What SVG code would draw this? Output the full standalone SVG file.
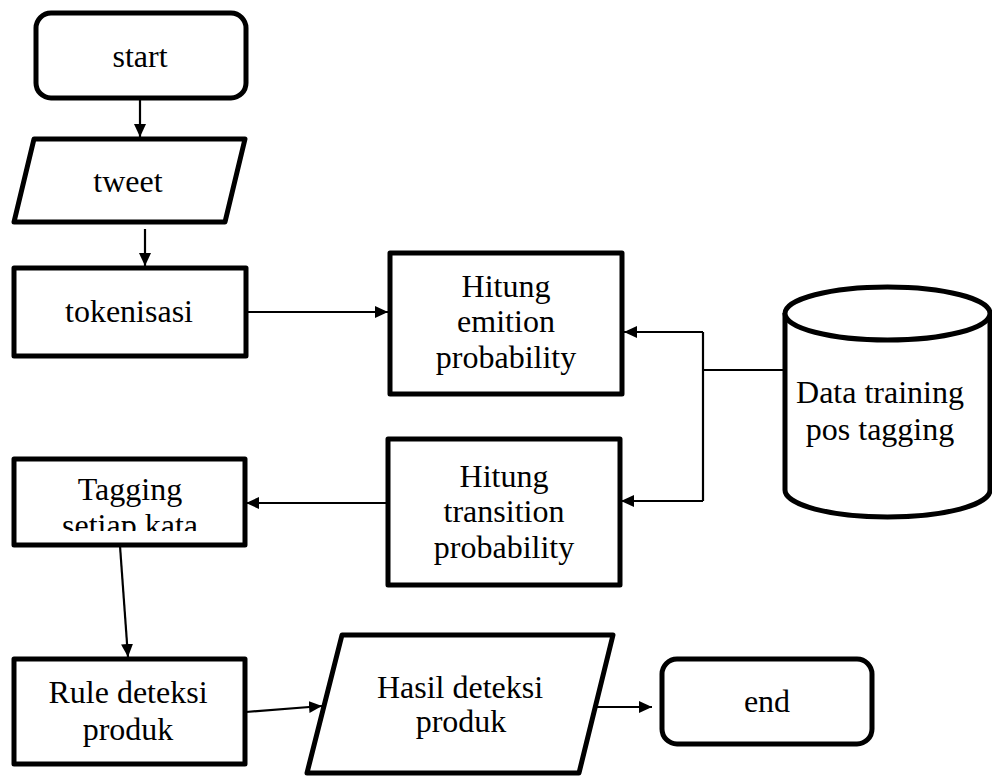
<svg xmlns="http://www.w3.org/2000/svg" width="992" height="776" viewBox="0 0 992 776">
<style>
.box{fill:#fff;stroke:#000;stroke-width:5;stroke-linejoin:round}
.lbl{font-family:"Liberation Serif","Times New Roman",serif;font-size:32px;fill:#000;text-anchor:middle}
.con{fill:none;stroke:#000;stroke-width:2.2}
.arr{marker-end:url(#ah)}
</style>
<defs>
<marker id="ah" markerUnits="userSpaceOnUse" markerWidth="14" markerHeight="14" refX="13" refY="7" orient="auto">
<path d="M0,1 L13,7 L0,13 z" fill="#000"/>
</marker>
<clipPath id="tagclip"><rect x="15" y="460" width="228" height="71"/></clipPath>
</defs>
<rect width="992" height="776" fill="#fff"/>
<g id="connectors">
<line class="con arr" x1="140" y1="99" x2="140" y2="137"/>
<line class="con arr" x1="145" y1="229" x2="145" y2="266"/>
<line class="con arr" x1="247" y1="312" x2="388" y2="312"/>
<polyline class="con" points="785,370 703,370"/>
<polyline class="con" points="703,332 703,501"/>
<line class="con arr" x1="703" y1="332" x2="624" y2="332"/>
<line class="con arr" x1="703" y1="501" x2="621" y2="501"/>
<line class="con arr" x1="388" y1="503" x2="246" y2="503"/>
<line class="con arr" x1="120" y1="546" x2="128" y2="657"/>
<line class="con arr" x1="246" y1="712" x2="322" y2="706"/>
<line class="con arr" x1="590" y1="707" x2="652" y2="707"/>
</g>
<g id="start">
<rect class="box" x="36" y="13" width="210" height="85" rx="15"/>
<text class="lbl" x="140" y="67">start</text>
</g>
<g id="tweet">
<polygon class="box" points="34,139 245,139 225,222 14,222"/>
<text class="lbl" x="128" y="192">tweet</text>
</g>
<g id="tokenisasi">
<rect class="box" x="14" y="268" width="232" height="88"/>
<text class="lbl" x="129" y="322">tokenisasi</text>
</g>
<g id="emition">
<rect class="box" x="390" y="253" width="232" height="141"/>
<text class="lbl" x="506" y="297">Hitung</text>
<text class="lbl" x="506" y="332">emition</text>
<text class="lbl" x="506" y="368">probability</text>
</g>
<g id="datatraining">
<path class="box" d="M785,313 L785,490 A102.5,27 0 0 0 990,490 L990,313"/>
<ellipse class="box" cx="887.5" cy="313.5" rx="102.5" ry="26.5"/>
<text class="lbl" x="880" y="403">Data training</text>
<text class="lbl" x="880" y="440">pos tagging</text>
</g>
<g id="transition">
<rect class="box" x="388" y="439" width="232" height="146"/>
<text class="lbl" x="504" y="487">Hitung</text>
<text class="lbl" x="504" y="522">transition</text>
<text class="lbl" x="504" y="558">probability</text>
</g>
<g id="tagging">
<rect class="box" x="14" y="459" width="231" height="86"/>
<g clip-path="url(#tagclip)">
<text class="lbl" x="130" y="500">Tagging</text>
<text class="lbl" x="130" y="536">setiap kata</text>
</g>
</g>
<g id="rule">
<rect class="box" x="14" y="659" width="231" height="105"/>
<text class="lbl" x="128" y="703">Rule deteksi</text>
<text class="lbl" x="128" y="740">produk</text>
</g>
<g id="hasil">
<polygon class="box" points="342,635 613,635 579,773 307,773"/>
<text class="lbl" x="460" y="698">Hasil deteksi</text>
<text class="lbl" x="461" y="732">produk</text>
</g>
<g id="end">
<rect class="box" x="662" y="659" width="210" height="85" rx="15"/>
<text class="lbl" x="767" y="712">end</text>
</g>
</svg>
